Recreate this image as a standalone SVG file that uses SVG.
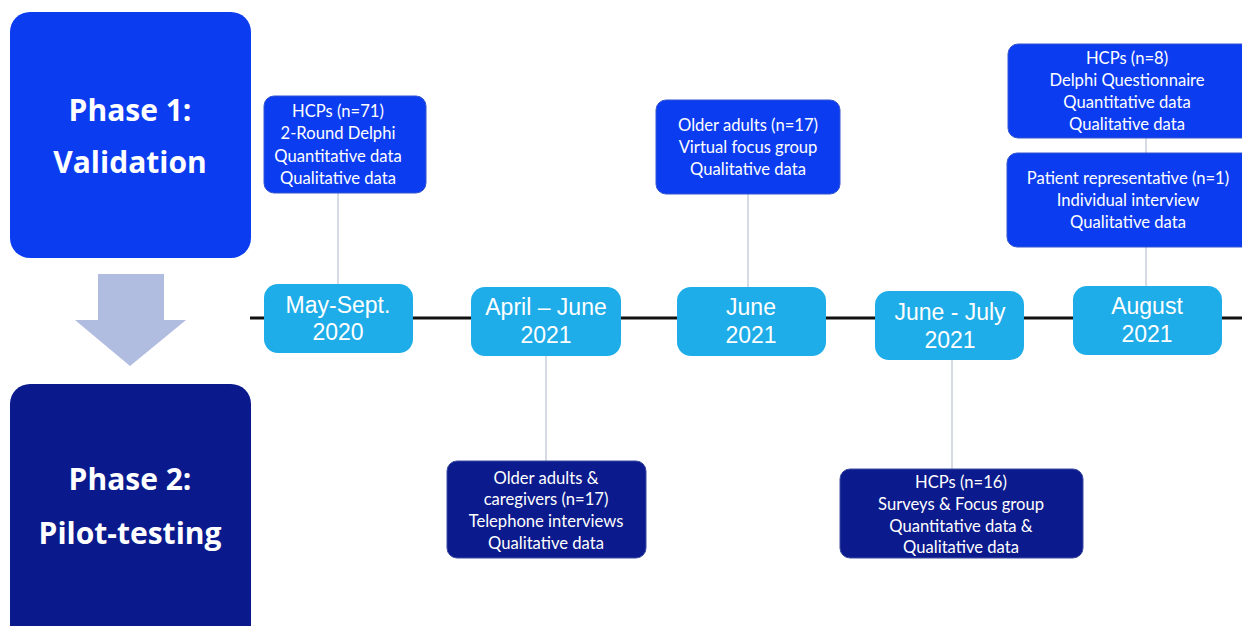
<svg xmlns="http://www.w3.org/2000/svg" width="1242" height="626" viewBox="0 0 1242 626">
<style>
.ph{font-family:"Open Sans","Noto Sans",sans-serif;font-weight:bold;font-size:30px;fill:#fff;text-anchor:middle}
.dt{font-family:"Liberation Sans",Arial,sans-serif;font-size:23px;fill:#fff;text-anchor:middle}
.it{font-family:Lato,"Noto Sans",sans-serif;font-size:16.6px;fill:#fff;text-anchor:middle}
.date{fill:#1EADE8}
.top{fill:#0B3CF0;stroke:#3355d0;stroke-width:1}
.bot{fill:#0B1A8C;stroke:#3a4aa0;stroke-width:1}
.con{stroke:#B9C2D2;stroke-width:1.2;fill:none}
</style>
<rect width="1242" height="626" fill="#fff"/>
<g id="phase1"><rect x="10" y="12" width="241" height="246" rx="20" fill="#0B3CF0"/>
<text class="ph" x="130" y="121">Phase 1:</text><text class="ph" x="130" y="173">Validation</text></g>
<g id="phase2"><rect x="10" y="384" width="241" height="262" rx="20" fill="#0A1A8C"/>
<text class="ph" x="130" y="490">Phase 2:</text><text class="ph" x="130" y="544">Pilot-testing</text></g>
<g id="phase-arrow"><polygon points="98,274 164,274 164,320 186,320 130,366 75,320 98,320" fill="#B0BCE0"/></g>
<g id="connectors">
<line x1="250" y1="318" x2="1242" y2="318" stroke="#111" stroke-width="3"/>
<line class="con" x1="338" y1="193" x2="338" y2="284"/>
<line class="con" x1="748" y1="194" x2="748" y2="287"/>
<line class="con" x1="1146" y1="138" x2="1146" y2="153"/>
<line class="con" x1="1146" y1="247" x2="1146" y2="286"/>
<line class="con" x1="546" y1="356" x2="546" y2="461"/>
<line class="con" x1="952" y1="360" x2="952" y2="469"/>
</g>
<g id="d1"><rect class="date" x="264" y="284" width="149" height="69" rx="14"/><text class="dt" x="338" y="313">May-Sept.</text><text class="dt" x="338" y="340">2020</text></g>
<g id="d2"><rect class="date" x="471" y="287" width="150" height="69" rx="14"/><text class="dt" x="546" y="315">April – June</text><text class="dt" x="546" y="343">2021</text></g>
<g id="d3"><rect class="date" x="677" y="287" width="149" height="69" rx="14"/><text class="dt" x="751" y="315">June</text><text class="dt" x="751" y="343">2021</text></g>
<g id="d4"><rect class="date" x="875" y="291" width="149" height="69" rx="14"/><text class="dt" x="950" y="320">June - July</text><text class="dt" x="950" y="348">2021</text></g>
<g id="d5"><rect class="date" x="1073" y="286" width="149" height="69" rx="14"/><text class="dt" x="1147" y="314">August</text><text class="dt" x="1147" y="342">2021</text></g>
<g id="i1"><rect class="top" x="264" y="96" width="162" height="97" rx="10"/>
<text class="it" x="338" y="117">HCPs (n=71)</text><text class="it" x="338" y="139">2-Round Delphi</text><text class="it" x="338" y="162">Quantitative data</text><text class="it" x="338" y="184">Qualitative data</text></g>
<g id="i2"><rect class="top" x="656" y="100" width="184" height="94" rx="10"/>
<text class="it" x="748" y="131">Older adults (n=17)</text><text class="it" x="748" y="153">Virtual focus group</text><text class="it" x="748" y="175">Qualitative data</text></g>
<g id="i3"><rect class="top" x="1008" y="44" width="245" height="94" rx="10"/>
<text class="it" x="1127" y="64">HCPs (n=8)</text><text class="it" x="1127" y="86">Delphi Questionnaire</text><text class="it" x="1127" y="108">Quantitative data</text><text class="it" x="1127" y="130">Qualitative data</text></g>
<g id="i4"><rect class="top" x="1007" y="153" width="246" height="94" rx="10"/>
<text class="it" x="1128" y="184">Patient representative (n=1)</text><text class="it" x="1128" y="206">Individual interview</text><text class="it" x="1128" y="228">Qualitative data</text></g>
<g id="i5"><rect class="bot" x="447" y="461" width="199" height="97" rx="10"/>
<text class="it" x="546" y="484">Older adults &amp;</text><text class="it" x="546" y="505">caregivers (n=17)</text><text class="it" x="546" y="527">Telephone interviews</text><text class="it" x="546" y="549">Qualitative data</text></g>
<g id="i6"><rect class="bot" x="840" y="469" width="243" height="89" rx="10"/>
<text class="it" x="961" y="488">HCPs (n=16)</text><text class="it" x="961" y="510">Surveys &amp; Focus group</text><text class="it" x="961" y="532">Quantitative data &amp;</text><text class="it" x="961" y="553">Qualitative data</text></g>
</svg>
